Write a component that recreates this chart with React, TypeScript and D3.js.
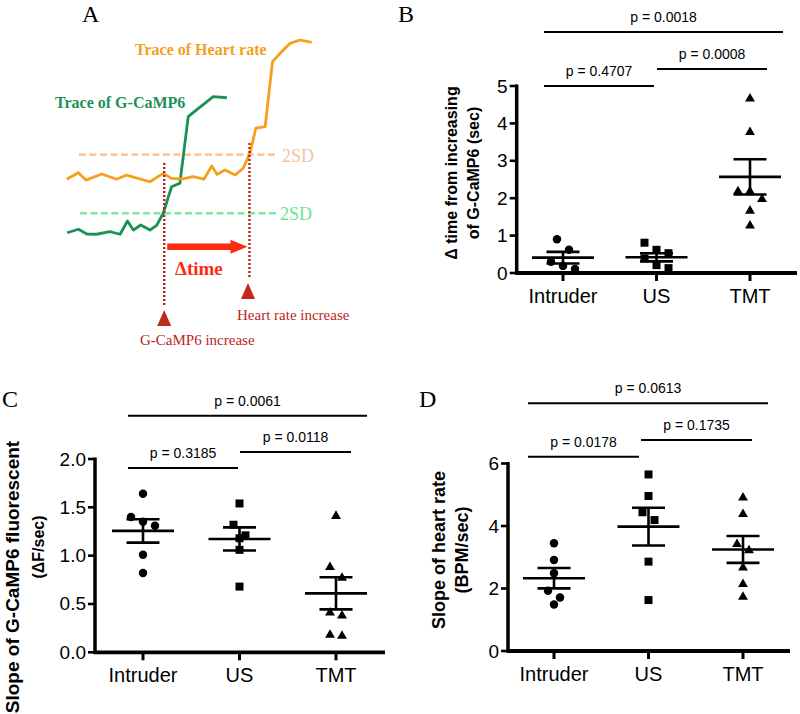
import React from 'react';
import * as d3 from 'd3';

// ---------------- Data ----------------
const categories = ['Intruder', 'US', 'TMT'];

// Panel A (schematic traces, arbitrary time / amplitude units)
const hrTime = [0, 2.37, 3.94, 7.14, 10.2, 12.2, 17.0, 19.7, 21.4, 23.5, 25.8, 28.0, 29.6, 30.7, 32.3, 34.4, 36.0, 37.4, 38.6, 40.5, 42.0, 44.2, 45.6, 47.6, 50];
const hrValue = [33.7, 36.8, 33.3, 36.2, 33.7, 35.7, 32.5, 36.5, 34.1, 33.8, 34.9, 33.7, 40, 36, 38.1, 35.7, 38.9, 46, 58, 58.7, 89.7, 95.2, 98.4, 100, 98.9];
const gcTime = [0.1, 2.4, 4.1, 6.1, 8.8, 10.9, 12.4, 13.6, 15.1, 17.0, 18.4, 19.7, 21.4, 23.1, 24.8, 26.5, 29.9, 32.7];
const gcValue = [8.2, 9.9, 7.6, 7.5, 8.7, 7.5, 13.8, 9.5, 11.9, 9.5, 11.9, 17.5, 30.1, 31.8, 63.5, 66.7, 73, 72.5];
const hrThreshold = 45.4;
const gcThreshold = 17.5;
const gcOnset = 19.9;
const hrOnset = 37.3;

// Panel B: Δ time from increasing of G-CaMP6 (sec)
const bIntruder = [0.90, 0.62, 0.30, 0.19, 0.11];
const bUS = [0.81, 0.62, 0.53, 0.39, 0.21, 0.13];
const bTMT = [4.69, 3.79, 2.21, 2.21, 2.00, 1.69, 1.29];
const bMean = [0.41, 0.42, 2.57];
const bSem = [0.155, 0.11, 0.47];
const bTicks = [0, 1, 2, 3, 4, 5];
const bP = ['p = 0.4707', 'p = 0.0008', 'p = 0.0018'];

// Panel C: Slope of G-CaMP6 fluorescent (ΔF/sec)
const cIntruder = [1.64, 1.40, 1.35, 1.31, 1.01, 0.82];
const cUS = [1.54, 1.32, 1.21, 1.18, 1.06, 0.68];
const cTMT = [1.42, 0.89, 0.78, 0.42, 0.39, 0.19, 0.18];
const cMean = [1.256, 1.173, 0.61];
const cSem = [0.121, 0.12, 0.166];
const cTicks = [0, 0.5, 1.0, 1.5, 2.0];
const cP = ['p = 0.3185', 'p = 0.0118', 'p = 0.0061'];

// Panel D: Slope of heart rate (BPM/sec)
const dIntruder = [3.45, 2.91, 2.49, 1.93, 1.71, 1.49];
const dUS = [5.65, 4.96, 4.44, 4.19, 2.86, 1.63];
const dTMT = [4.94, 4.41, 3.45, 3.25, 2.70, 2.17, 1.76];
const dMean = [2.33, 3.98, 3.25];
const dSem = [0.325, 0.605, 0.43];
const dTicks = [0, 2, 4, 6];
const dP = ['p = 0.0178', 'p = 0.1735', 'p = 0.0613'];

// ---------------- Styles ----------------
const SANS = "'Liberation Sans', Arial, Helvetica, sans-serif";
const SERIF = "'Liberation Serif', 'Times New Roman', serif";
const ORANGE = '#f5a01c';
const GREEN = '#1b9157';
const DARKRED = '#b8261b';
const RED = '#ff2b0f';

// ---------------- Panel A ----------------
const PanelA: React.FC = () => {
  const x = d3.scaleLinear().domain([0, 50]).range([66.7, 311.7]);
  const y = d3.scaleLinear().domain([0, 100]).range([250, 40]);
  const line = d3.line<[number, number]>().x(d => x(d[0])).y(d => y(d[1]));
  const hr = hrTime.map((t, i) => [t, hrValue[i]] as [number, number]);
  const gc = gcTime.map((t, i) => [t, gcValue[i]] as [number, number]);
  const tri = (cx: number, top: number) => `M${cx},${top}L${cx + 7},${top + 16}L${cx - 7},${top + 16}Z`;
  const ax1 = x(gcOnset) + 3;
  const ax2 = x(hrOnset) - 2;
  const ay = y(1.6);
  return (
    <g>
      <text x={82} y={22} fontFamily={SERIF} fontSize={24}>A</text>
      <line x1={x(2.5)} x2={x(43)} y1={y(hrThreshold)} y2={y(hrThreshold)} stroke="#f9c8a2" strokeWidth={2.6} strokeDasharray="7,3.5" />
      <line x1={x(2.7)} x2={x(43)} y1={y(gcThreshold)} y2={y(gcThreshold)} stroke="#7fe89b" strokeWidth={2.6} strokeDasharray="7,3.5" />
      <text x={282} y={161.5} fontFamily={SERIF} fontSize={18} fill="#f6c29c">2SD</text>
      <text x={280} y={220} fontFamily={SERIF} fontSize={18} fill="#6fe48e">2SD</text>
      <path d={line(gc) || ''} fill="none" stroke={GREEN} strokeWidth={2.8} strokeLinejoin="round" />
      <path d={line(hr) || ''} fill="none" stroke={ORANGE} strokeWidth={2.8} strokeLinejoin="round" />
      <line x1={x(gcOnset)} x2={x(gcOnset)} y1={y(41.4)} y2={y(-26.2)} stroke={DARKRED} strokeWidth={2.4} strokeDasharray="2,2" />
      <line x1={x(hrOnset)} x2={x(hrOnset)} y1={y(51)} y2={y(-13.3)} stroke={DARKRED} strokeWidth={2.4} strokeDasharray="2,2" />
      <path d={tri(x(gcOnset), 310)} fill="#c0291b" />
      <path d={tri(x(hrOnset) - 1.5, 283)} fill="#c0291b" />
      <line x1={ax1} x2={ax2 - 15} y1={ay} y2={ay} stroke={RED} strokeWidth={6.5} />
      <path d={`M${ax2},${ay}L${ax2 - 17},${ay - 7}L${ax2 - 17},${ay + 7}Z`} fill={RED} />
      <text x={175} y={275} fontFamily={SERIF} fontSize={19} fontWeight="bold" fill={RED}>Δtime</text>
      <text x={135} y={55} fontFamily={SERIF} fontSize={16} fontWeight="bold" fill={ORANGE}>Trace of Heart rate</text>
      <text x={55} y={108} fontFamily={SERIF} fontSize={16} fontWeight="bold" fill={GREEN}>Trace of G-CaMP6</text>
      <text x={237} y={320} fontFamily={SERIF} fontSize={15} fill={DARKRED}>Heart rate increase</text>
      <text x={140} y={345} fontFamily={SERIF} fontSize={15} fill={DARKRED}>G-CaMP6 increase</text>
    </g>
  );
};

// ---------------- Scatter panels ----------------
type PBar = { x1: number; x2: number; y: number; label: string };
type TitleLine = { text: string; x: number; y: number; size: number };
type PanelProps = {
  groups: number[][];
  means: number[];
  sems: number[];
  domain: [number, number];
  ticks: number[];
  fmt: (v: number) => string;
  axisX: number;
  axisY: number;
  topY: number;
  xEnd: number;
  catRange: [number, number];
  titles: TitleLine[];
  pbars: PBar[];
  letter: { text: string; x: number; y: number };
};

const symbolTypes = [d3.symbolCircle, d3.symbolSquare, d3.symbolTriangle];
const symbolSizes = [56, 64, 42];

function swarm(values: number[], y: (v: number) => number, step: number, thr: number) {
  const idx = values.map((v, i) => i).sort((a, b) => values[b] - values[a]);
  const offsets = new Array(values.length).fill(0);
  let bin: number[] = [];
  const flush = () => {
    bin.forEach((k, j) => { offsets[k] = (j - (bin.length - 1) / 2) * step; });
    bin = [];
  };
  let start = -Infinity;
  idx.forEach(i => {
    const py = y(values[i]);
    if (bin.length && py - start > thr) flush();
    if (!bin.length) start = py;
    bin.push(i);
  });
  flush();
  return offsets;
}

const ScatterPanel: React.FC<PanelProps> = p => {
  const y = d3.scaleLinear().domain(p.domain).range([p.axisY, p.topY]);
  const x = d3.scalePoint<string>().domain(categories).range(p.catRange);
  return (
    <g fontFamily={SANS}>
      <text x={p.letter.x} y={p.letter.y} fontFamily={SERIF} fontSize={24}>{p.letter.text}</text>
      {p.titles.map((t, i) => (
        <text key={i} transform={`translate(${t.x},${t.y}) rotate(-90)`} textAnchor="middle" dominantBaseline="central" fontSize={t.size} fontWeight="bold">{t.text}</text>
      ))}
      {/* axes */}
      <line x1={p.axisX} x2={p.axisX} y1={p.topY - 1.5} y2={p.axisY + 1.5} stroke="#000" strokeWidth={3.5} />
      <line x1={p.axisX - 1.5} x2={p.xEnd} y1={p.axisY} y2={p.axisY} stroke="#000" strokeWidth={3.8} />
      {p.ticks.map(t => (
        <g key={t}>
          <line x1={p.axisX - 7} x2={p.axisX} y1={y(t)} y2={y(t)} stroke="#000" strokeWidth={2.6} />
          <text x={p.axisX - 9} y={y(t)} textAnchor="end" dominantBaseline="central" fontSize={19}>{p.fmt(t)}</text>
        </g>
      ))}
      {categories.map(c => (
        <g key={c}>
          <line x1={x(c)} x2={x(c)} y1={p.axisY} y2={p.axisY + 8} stroke="#000" strokeWidth={3} />
          <text x={x(c)} y={p.axisY + 30} textAnchor="middle" fontSize={20}>{c}</text>
        </g>
      ))}
      {/* points */}
      {p.groups.map((g, gi) => {
        const cx = x(categories[gi]) as number;
        const offs = swarm(g, y, 12, 11);
        const sym = d3.symbol().type(symbolTypes[gi]).size(symbolSizes[gi]);
        return g.map((v, i) => (
          <path key={`${gi}-${i}`} d={sym() || ''} transform={`translate(${cx + offs[i]},${y(v) + (gi === 2 ? 1 : 0)})`} fill="#000" />
        ));
      })}
      {/* mean ± SEM */}
      {p.means.map((m, gi) => {
        const cx = x(categories[gi]) as number;
        const s = p.sems[gi];
        return (
          <g key={gi} stroke="#000" strokeWidth={2.6}>
            <line x1={cx - 31} x2={cx + 31} y1={y(m)} y2={y(m)} />
            <line x1={cx - 16.5} x2={cx + 16.5} y1={y(m + s)} y2={y(m + s)} />
            <line x1={cx - 16.5} x2={cx + 16.5} y1={y(m - s)} y2={y(m - s)} />
            <line x1={cx} x2={cx} y1={y(m + s)} y2={y(m - s)} />
          </g>
        );
      })}
      {/* p-value bars */}
      {p.pbars.map((b, i) => (
        <g key={i}>
          <line x1={b.x1} x2={b.x2} y1={b.y} y2={b.y} stroke="#000" strokeWidth={2} />
          <text x={(b.x1 + b.x2) / 2} y={b.y - 10} textAnchor="middle" fontSize={14}>{b.label}</text>
        </g>
      ))}
    </g>
  );
};

const fmtInt = d3.format('d');
const fmt1 = d3.format('.1f');

const App: React.FC = () => (
  <svg width={800} height={714} style={{ position: 'absolute', left: 0, top: 0, background: '#fff' }}>
    <rect width={800} height={714} fill="#fff" />
    <PanelA />
    <ScatterPanel
      groups={[bIntruder, bUS, bTMT]} means={bMean} sems={bSem}
      domain={[0, 5]} ticks={bTicks} fmt={fmtInt}
      axisX={516.7} axisY={273} topY={86} xEnd={797} catRange={[563, 750]}
      titles={[
        { text: 'Δ time from increasing', x: 451.7, y: 173, size: 16 },
        { text: 'of G-CaMP6 (sec)', x: 473.3, y: 173, size: 16 },
      ]}
      pbars={[
        { x1: 544, x2: 654, y: 86, label: bP[0] },
        { x1: 657, x2: 767, y: 69, label: bP[1] },
        { x1: 544, x2: 783, y: 32, label: bP[2] },
      ]}
      letter={{ text: 'B', x: 398, y: 22 }}
    />
    <ScatterPanel
      groups={[cIntruder, cUS, cTMT]} means={cMean} sems={cSem}
      domain={[0, 2]} ticks={cTicks} fmt={fmt1}
      axisX={95} axisY={652.3} topY={459} xEnd={385} catRange={[143, 336]}
      titles={[
        { text: 'Slope of G-CaMP6 fluorescent', x: 12.5, y: 577, size: 19 },
        { text: '(ΔF/sec)', x: 38, y: 547, size: 16 },
      ]}
      pbars={[
        { x1: 128, x2: 238, y: 468, label: cP[0] },
        { x1: 240, x2: 351, y: 452, label: cP[1] },
        { x1: 128, x2: 367, y: 415.7, label: cP[2] },
      ]}
      letter={{ text: 'C', x: 2, y: 407 }}
    />
    <ScatterPanel
      groups={[dIntruder, dUS, dTMT]} means={dMean} sems={dSem}
      domain={[0, 6]} ticks={dTicks} fmt={fmtInt}
      axisX={508} axisY={651} topY={463.5} xEnd={790} catRange={[554, 743]}
      titles={[
        { text: 'Slope of heart rate', x: 439, y: 550, size: 18 },
        { text: '(BPM/sec)', x: 462, y: 550, size: 18 },
      ]}
      pbars={[
        { x1: 528, x2: 639, y: 456.7, label: dP[0] },
        { x1: 641, x2: 752, y: 440, label: dP[1] },
        { x1: 528, x2: 768, y: 403.3, label: dP[2] },
      ]}
      letter={{ text: 'D', x: 419, y: 407 }}
    />
  </svg>
);

export default App;
